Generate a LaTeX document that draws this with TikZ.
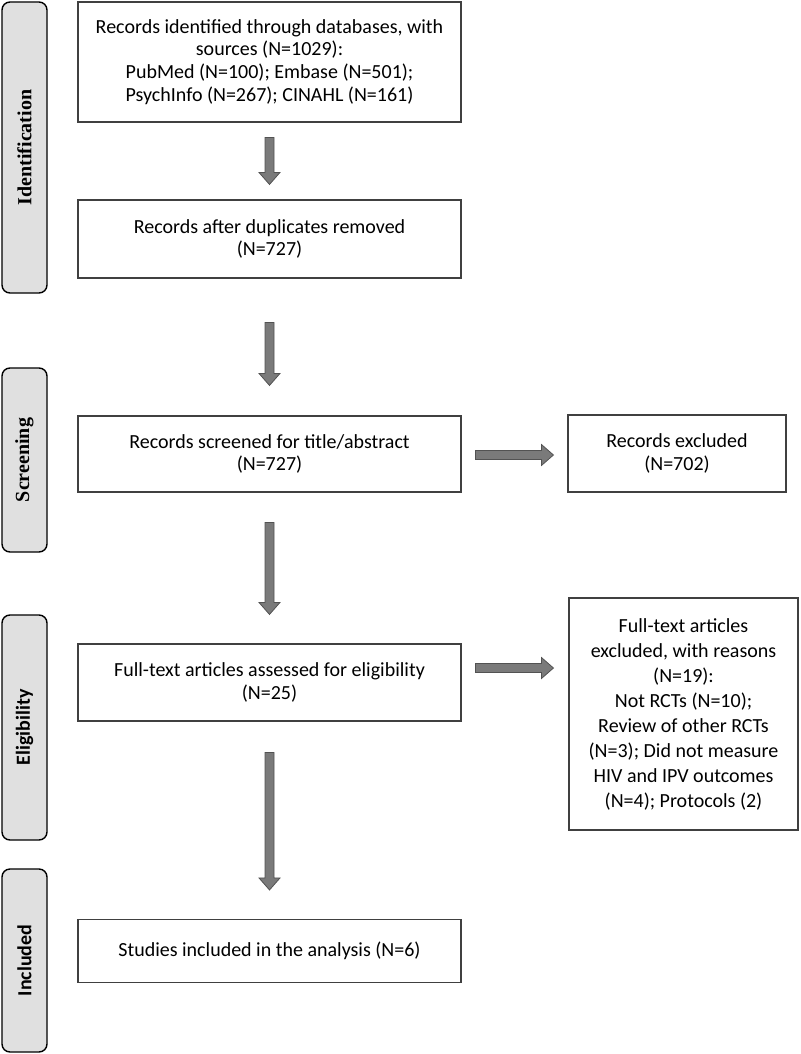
\documentclass[tikz,border=0pt]{standalone}
\usepackage{fontspec}
\setmainfont{Carlito}
\newfontfamily\timesfont{Liberation Serif}
\usetikzlibrary{calc}

\begin{document}
\begin{tikzpicture}[x=1pt, y=1pt,
    box/.style={draw=black!75, line width=1.1pt, inner sep=0pt, align=center,
        minimum width=383pt, font=\fontsize{20}{22.7}\selectfont},
    phase/.style={draw=black, line width=1.4pt, fill=black!12, rounded corners=8pt,
        rotate=90, inner sep=0pt, minimum height=45pt},
    blockarrow/.style={fill=black!52, draw=black!68, line width=0.8pt}]
    \newcommand\shaft{4.5pt}
    \newcommand\headw{10.5pt}
    \newcommand\headlen{12pt}
    % down arrow between two nodes, #3 and #4 are the gaps
    \newcommand\downblock[4]{%
        \filldraw[blockarrow] let \p1=(#1.south), \p2=(#2.north) in
            (\x1-\shaft,\y1-#3) -- (\x1+\shaft,\y1-#3) -- (\x1+\shaft,\y2+#4+\headlen)
            -- (\x1+\headw,\y2+#4+\headlen) -- (\x1,\y2+#4) -- (\x1-\headw,\y2+#4+\headlen)
            -- (\x1-\shaft,\y2+#4+\headlen) -- cycle;}
    % right arrow, drawn at height #5
    \newcommand\rightblock[5]{%
        \filldraw[blockarrow] let \p1=(#1.east), \p2=(#2.west) in
            (\x1+#3,#5+\shaft) -- (\x2-#4-\headlen,#5+\shaft) -- (\x2-#4-\headlen,#5+\headw)
            -- (\x2-#4,#5) -- (\x2-#4-\headlen,#5-\headw) -- (\x2-#4-\headlen,#5-\shaft)
            -- (\x1+#3,#5-\shaft) -- cycle;}

    \useasboundingbox (0,0) rectangle (800,-1054);

    % phases on the left
    \node[phase, minimum width=291pt, font=\timesfont\bfseries\fontsize{20}{24}\selectfont]
        (ident) at (24.5,-147.5) {Identification};
    \node[phase, minimum width=184pt, font=\timesfont\bfseries\fontsize{20}{24}\selectfont]
        (screen) at (24.5,-460) {Screening};
    \node[phase, minimum width=225pt, font=\bfseries\fontsize{20}{24}\selectfont]
        (elig) at (24.5,-727.5) {Eligibility};
    \node[phase, minimum width=183pt, font=\bfseries\fontsize{20}{24}\selectfont]
        (incl) at (24.5,-960.5) {Included};

    % main column
    \node[box, minimum height=120pt] (found) at (269.5,-62)
        {Records identified through databases, with\\ sources (N=1029):\\
         PubMed (N=100); Embase (N=501);\\ PsychInfo (N=267); CINAHL (N=161)};
    \node[box, minimum height=78pt] (nodup) at (269.5,-239)
        {Records after duplicates removed\\ (N=727)};
    \node[box, minimum height=76pt] (screened) at (269.5,-454)
        {Records screened for title/abstract\\ (N=727)};
    \node[box, minimum height=77pt] (fulltext) at (269.5,-682.5)
        {Full-text articles assessed for eligibility\\ (N=25)};
    \node[box, minimum height=63pt] (studies) at (269.5,-951)
        {Studies included in the analysis (N=6)};

    % exclusions
    \node[box, minimum width=218pt, minimum height=77pt] (excl) at (677,-453.5)
        {Records excluded\\ (N=702)};
    \node[box, minimum width=229pt, minimum height=232pt, font=\fontsize{20}{25}\selectfont]
        (reasons) at (683.5,-714)
        {Full-text articles\\ excluded, with reasons\\ (N=19):\\ Not RCTs (N=10);\\
         Review of other RCTs\\ (N=3); Did not measure\\ HIV and IPV outcomes\\
         (N=4); Protocols (2)};

    % draw arrows
    \downblock{found}{nodup}{15pt}{15pt}
    \downblock{nodup}{screened}{44pt}{30pt}
    \downblock{screened}{fulltext}{30pt}{29pt}
    \downblock{fulltext}{studies}{31pt}{29pt}
    \rightblock{screened}{excl}{14pt}{14pt}{-455}
    \rightblock{fulltext}{reasons}{14pt}{15pt}{-668}
\end{tikzpicture}
\end{document}
